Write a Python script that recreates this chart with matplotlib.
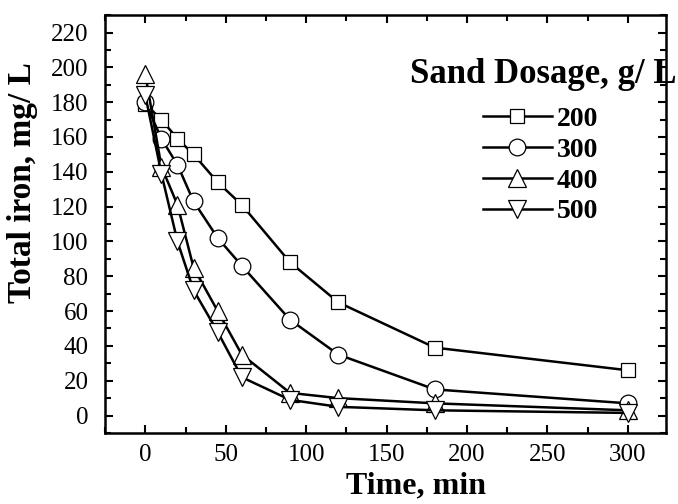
import matplotlib.pyplot as plt
import numpy as np

plt.rcParams['font.family'] = ['Liberation Serif', 'DejaVu Serif']

# sampling times (min)
time = [0, 10, 20, 30, 45, 60, 90, 120, 180, 300]

# total iron (mg/L) for each sand dosage (g/L)
iron_200 = [179, 170, 159, 150, 134, 121, 88, 65, 39, 26]
iron_300 = [180, 159, 144, 123, 102, 86, 55, 35, 15, 7]
iron_400 = [196, 143, 121, 85, 60, 35, 13, 10, 7, 3]
iron_500 = [184, 139, 100, 72, 48, 22, 9, 5, 3, 1.5]

dosages = ['200', '300', '400', '500']
markers = ['s', 'o', '^', 'v']
msizes = [10.5, 12, 12.5, 12.5]

fig = plt.figure(figsize=(6.78, 5.04), dpi=100)
ax = fig.add_axes([0.155, 0.141, 0.828, 0.829])

for y, lab, m, ms in zip([iron_200, iron_300, iron_400, iron_500], dosages, markers, msizes):
    ax.plot(time, y, '-', color='black', lw=1.8, marker=m, markersize=ms,
            markerfacecolor='white', markeredgecolor='black', markeredgewidth=0.9, label=lab)

ax.set_xlim(-25, 324)
ax.set_ylim(-10, 230)
ax.set_xticks(np.arange(0, 301, 50))
ax.set_xticks(np.arange(-25, 325, 25), minor=True)
ax.set_yticks(np.arange(0, 221, 20))
ax.set_yticks(np.arange(-10, 231, 10), minor=True)
ax.tick_params(which='both', direction='in', top=True, right=True, width=1.5)
ax.tick_params(which='major', length=6, labelsize=18)
ax.tick_params(axis='x', which='major', pad=8)
ax.tick_params(axis='y', which='major', pad=12)
ax.tick_params(which='minor', length=4)
for s in ax.spines.values():
    s.set_linewidth(1.8)

ax.set_xlabel('Time, min', fontsize=23, fontweight='bold')
ax.set_ylabel('Total iron, mg/ L', fontsize=24, fontweight='bold')
ax.xaxis.set_label_coords(0.554, -0.093)
ax.yaxis.set_label_coords(-0.12, 0.60)

leg = ax.legend(loc='upper left', bbox_to_anchor=(0.674, 0.781), frameon=False,
                handlelength=2.45, handletextpad=0.2, labelspacing=0.19,
                borderaxespad=0, borderpad=0,
                prop={'size': 20, 'weight': 'bold'})
fig.text(410 / 678, 1 - 83 / 504, 'Sand Dosage, g/ L', fontsize=25,
         fontweight='bold', ha='left', va='baseline')

fig.savefig('out.png', dpi=100)
